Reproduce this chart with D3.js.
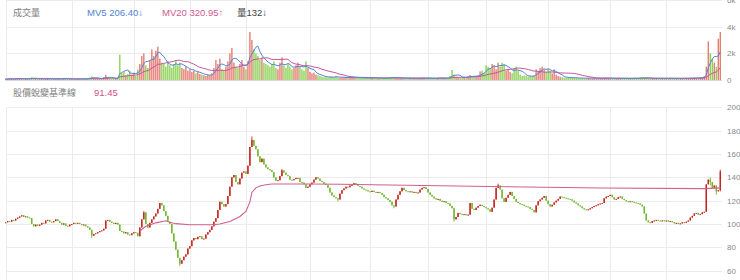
<!DOCTYPE html>
<html><head><meta charset="utf-8">
<script src="https://cdn.jsdelivr.net/npm/d3@7"></script>
<style>
body{margin:0;background:#fff;}
svg{display:block;font-family:"Liberation Sans","Noto Sans CJK TC",Arial,sans-serif;}
</style></head><body>
<svg id="c" width="740" height="280"></svg>
<script>
const closes=[
101.5,102.5,102,103.5,103,104.5,105.5,106.5,107.5,106,
106.5,105.5,105,100,98,99.5,98.5,99.5,101,100.5,
103,103.5,102,101.5,102.5,104,102.5,101,99.5,100.5,
98.5,98,99.5,100,101,100.5,101,100,99,99.5,
98,97,95,90,91.5,92,93,94,94.5,96,
103,103.5,102,101,100,101,99.5,94,93.5,92,
93,91,90.5,92,93,92.5,89.5,97,104,110,
100,97,101,104,106.5,109,113,118,116,111,
107,102,100,92,85,78,71,66,69,72,
74,79,81,86,88,87,89,89.5,87,87.5,
91,93,95,98,102,105,112,119,117,115,
117,124,132,140,142,136,134,139,144,145,
143,150,166,172,167,164,158,153,156,151,
148.5,147,146,144.5,140,137,137.5,141,146,144,
142,141,138,137.5,138.5,139.5,139.5,136,135.5,134,
131,132,134,135.5,138,140,139,137,136,134.5,
133.5,131,127,124.5,123,122,121,126,129,130.5,
132,131.5,133,133.5,135,134,132.5,132,130.5,129.5,
129,128,127.5,128.5,127.5,127,127.5,126.5,125,123,
122,120.5,119,116,115,121,125,128,131,129,
128,127.5,128,127,127.5,126.5,127,129.5,131,131.5,
130,127,125,123.5,122,121,121.5,120,119,119.5,
118,117.5,115.5,113.5,104,106,109.5,108.5,108,108.5,
107.5,108,118,113,112,114,115.5,116.5,115.5,114.5,
113.5,112.5,110.5,114,121,131,133,129.5,122,119,
122.5,125,127.5,124,121.5,119,118,117,116.5,115.5,
115,114.5,113,112,110,116,119.5,121,122.5,124,
120,117,115,116.5,118.5,120,121.5,123.5,123,122.5,
122,121.5,121,120,118.5,117.5,116,115,113.5,112.5,
112,112.5,113.5,114.5,115.5,116,117,117.5,118,122,
123.5,124,125,123,121,121.5,123,123.5,121.5,120.5,
119.5,119,119.5,119,118.5,118,117.5,116.5,115,109,
103,101.5,101,102.5,103,103.5,103,102.5,103,102.5,
103,102,102.5,101.5,100.5,101,100,100.5,101.5,101,
102,103,105.5,107,109,109.5,108,108.5,110,110.5,
134,138,136,131,133,128,129,145];

const volumes=[
80,60,120,90,70,110,150,90,80,60,
100,130,80,200,150,90,70,80,100,60,
90,120,80,70,60,90,110,100,70,80,
150,90,60,80,70,90,100,80,70,60,
110,140,180,260,160,90,100,80,120,220,
380,160,120,90,100,130,150,1900,500,600,
350,450,700,400,550,300,800,1200,1800,2000,
1100,900,1500,2300,1800,2200,2500,1600,1300,1200,
1000,1400,1100,900,1200,1500,1100,1300,900,800,
1000,700,800,600,700,500,600,450,400,350,
300,400,350,500,900,1500,1200,1600,800,700,
1000,1400,2000,2400,1300,1000,900,1200,1500,1000,
800,1400,3600,3000,2300,2000,1800,1500,1700,1300,
1200,1100,1000,1200,1400,900,800,1300,1700,1100,
900,1200,1000,800,900,1100,1300,1000,800,700,
1400,900,600,500,550,400,350,300,250,200,
220,180,260,240,200,300,180,160,200,220,
180,170,150,190,210,160,140,180,150,130,
170,160,140,150,180,130,120,150,140,120,
160,150,180,200,220,150,140,130,160,150,
120,140,130,110,150,140,120,130,160,150,
140,120,110,130,150,140,160,170,150,130,
140,120,300,750,400,250,200,180,160,220,
200,250,380,300,260,280,300,650,700,550,
1100,1000,900,1200,1100,800,1300,1000,1300,1200,
700,800,600,500,900,1000,700,400,300,350,
300,250,300,280,350,800,700,900,1000,800,
600,850,700,500,800,400,300,250,200,180,
160,200,180,170,150,160,140,130,150,120,
140,160,130,120,150,110,140,130,120,150,
160,140,120,130,110,140,150,120,100,130,
120,140,110,130,150,120,140,160,200,180,
150,130,120,140,110,130,120,100,140,120,
130,110,120,140,100,120,130,110,140,150,
120,130,160,150,170,140,160,180,200,300,
1000,2900,2000,1600,1300,1000,3100,3600];

// notable wicks (candle index, high, low)
const spikeIdx =[43, 69, 87, 123, 138, 166, 194, 224, 246, 352, 355, 357];
const spikeHigh=[92, 111, 69, 175, 147, 122, 116, 114, 134.5, 140, 130, 146.5];
const spikeLow =[88, 104, 64, 166, 141, 119.5, 113.5, 102, 131, 133, 125, 128];

// 股價蛻變基準線 read at candle indices
const baseIdx =[67, 70, 75, 80, 82, 85, 92, 103, 107, 112, 117, 120, 122, 123, 125, 127, 130, 133, 152, 167, 200, 242, 297, 349, 357];
const baseVals=[94, 98, 101, 102.8, 101.5, 100.3, 99.4, 99.4, 100, 102.2, 106.5, 110.8, 119, 127, 131, 132.6, 133.7, 134.3, 134.3, 134.1, 133.2, 132.2, 130.8, 130.3, 131];

const gridIdx=[0,33,64,92,120,152,182,211,240,271,302,330];
const priceTicks=[60,80,100,120,140,160,180,200];
const volTicks=[0,2000,4000,6000];
const volTickLabels=["0","2k","4k","6k"];

const N=Math.min(closes.length,volumes.length);
const svg=d3.select("#c");
const RED="#c8211c", GREEN="#6db72a";

const x=d3.scaleBand().domain(d3.range(N)).range([5,721]).paddingInner(0.3);
const cx=i=>x(i)+x.bandwidth()/2;
const yV=d3.scaleLinear().domain([0,6000]).range([80,0]);
const yP=d3.scaleLinear().domain([60,200]).range([270.7,107.3]);

const gGrid=svg.append("g").attr("stroke","#ececec").attr("stroke-width",1);
gridIdx.forEach(i=>{
  const xx=Math.round(cx(i))+0.5;
  gGrid.append("line").attr("x1",xx).attr("x2",xx).attr("y1",0).attr("y2",80);
  gGrid.append("line").attr("x1",xx).attr("x2",xx).attr("y1",yP(200)).attr("y2",280);
});
volTicks.slice(1).forEach(v=>{
  const yy=Math.round(yV(v))+0.5;
  gGrid.append("line").attr("x1",7).attr("x2",722).attr("y1",yy).attr("y2",yy);
});
priceTicks.forEach(v=>{
  const yy=Math.round(yP(v))+0.5;
  gGrid.append("line").attr("x1",7).attr("x2",722).attr("y1",yy).attr("y2",yy);
});
svg.append("line").attr("x1",5).attr("x2",722).attr("y1",80.5).attr("y2",80.5).attr("stroke","#d8d8d8");

const rows=d3.range(N).map(i=>{
  const o=i>0?closes[i-1]:closes[i], c=closes[i];
  let hi=Math.max(o,c), lo=Math.min(o,c);
  const k=spikeIdx.indexOf(i);
  if(k>=0){hi=Math.max(hi,spikeHigh[k]);lo=Math.min(lo,spikeLow[k]);}
  return {i,o,c,hi,lo,v:volumes[i],up:c>=o};
});

svg.append("g").selectAll("rect").data(rows).join("rect")
  .attr("x",d=>x(d.i)).attr("width",x.bandwidth())
  .attr("y",d=>yV(d.v)).attr("height",d=>yV(0)-yV(d.v))
  .attr("fill",d=>d.up?"#e0665c":"#79c93a").attr("opacity",0.85);

function mv(n){return rows.map(d=>d3.mean(volumes.slice(Math.max(0,d.i-n+1),d.i+1)));}
const mv5=mv(5), mv20=mv(20);
const lineV=d3.line().x((d,i)=>cx(i)).y(d=>yV(d));
svg.append("path").attr("d",lineV(mv20)).attr("fill","none").attr("stroke","#c8559a").attr("stroke-width",1);
svg.append("path").attr("d",lineV(mv5)).attr("fill","none").attr("stroke","#4f86d9").attr("stroke-width",1);

const gC=svg.append("g");
gC.selectAll("line").data(rows).join("line")
  .attr("x1",d=>cx(d.i)).attr("x2",d=>cx(d.i))
  .attr("y1",d=>yP(d.hi)).attr("y2",d=>yP(d.lo))
  .attr("stroke",d=>d.up?RED:GREEN).attr("stroke-width",0.9);
gC.selectAll("rect").data(rows).join("rect")
  .attr("x",d=>x(d.i)).attr("width",x.bandwidth())
  .attr("y",d=>yP(Math.max(d.o,d.c)))
  .attr("height",d=>Math.max(1,Math.abs(yP(d.o)-yP(d.c))))
  .attr("fill",d=>d.up?RED:GREEN);

const lineB=d3.line().x(d=>cx(d[0])).y(d=>yP(d[1]));
svg.append("path").attr("d",lineB(baseIdx.map((b,k)=>[b,baseVals[k]])))
  .attr("fill","none").attr("stroke","#d0608e").attr("stroke-width",1.1);

const axP=svg.append("g").attr("transform","translate(725,0)")
  .call(d3.axisRight(yP).tickValues(priceTicks).tickSize(0).tickPadding(2));
const axV=svg.append("g").attr("transform","translate(725,0)")
  .call(d3.axisRight(yV).tickValues(volTicks).tickFormat((d,i)=>volTickLabels[i]).tickSize(0).tickPadding(2));
[axP,axV].forEach(a=>{a.select(".domain").remove();
  a.selectAll("text").attr("fill","#8a8a8a").style("font-size","8px").style("font-family","'Liberation Sans',Arial,sans-serif");});

const t=(xx,yy,txt,col,fs)=>svg.append("text").attr("x",xx).attr("y",yy).attr("fill",col).style("font-size",(fs||9)+"px").text(txt);
t(13,16,"成交量","#808080",9);
t(87,16,"MV5 206.40↓","#4f7fd0",9.5);
t(162,16,"MV20 320.95↑","#d0588e",9.5);
t(237,16,"量132↓","#444",9.5);
t(13,96,"股價蛻變基準線","#808080",9);
t(94,96,"91.45","#d0508a",9.5);
</script>
</body></html>
